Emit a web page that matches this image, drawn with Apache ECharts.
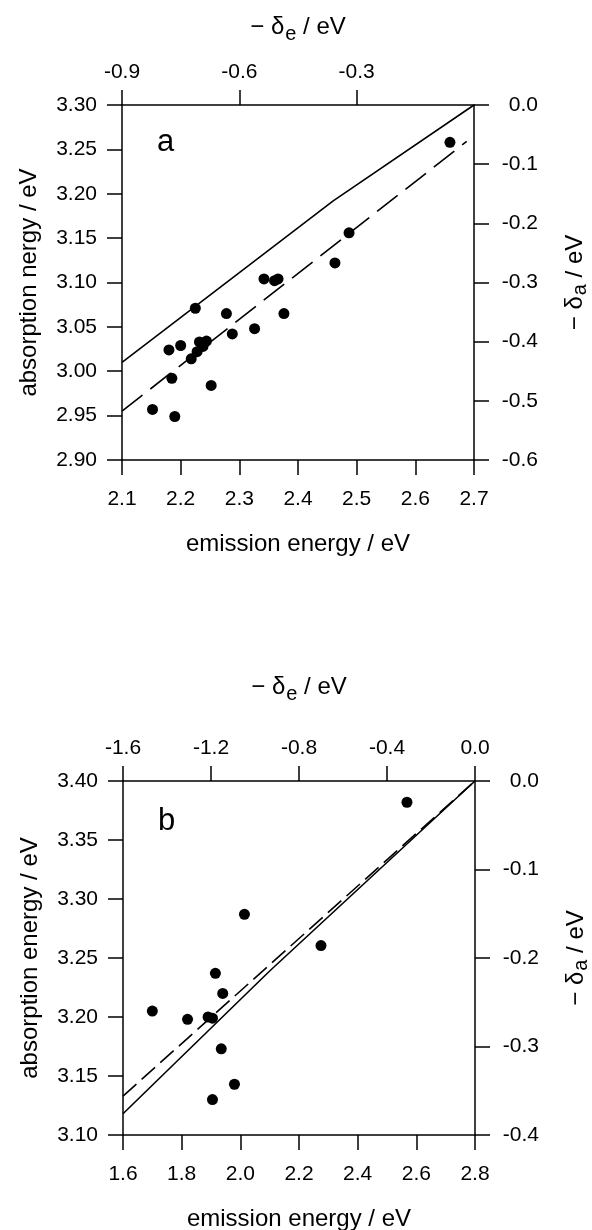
<!DOCTYPE html>
<html>
<head>
<meta charset="utf-8">
<script src="https://cdn.jsdelivr.net/npm/echarts@6/dist/echarts.min.js"></script>
<style>
  html, body { margin: 0; padding: 0; background: #fff; }
  #chart { width: 592px; height: 1230px; }
</style>
</head>
<body>
<div id="chart"></div>
<script>
// Panel a: emission vs absorption energies (eV)
const pointsA = [
  [2.152, 2.957], [2.180, 3.024], [2.185, 2.992], [2.190, 2.949],
  [2.200, 3.029], [2.218, 3.014], [2.225, 3.071], [2.228, 3.022],
  [2.232, 3.033], [2.238, 3.028], [2.244, 3.034], [2.252, 2.984],
  [2.278, 3.065], [2.288, 3.042], [2.326, 3.048], [2.342, 3.104],
  [2.360, 3.102], [2.366, 3.104], [2.376, 3.065], [2.463, 3.122],
  [2.487, 3.156], [2.659, 3.258]
];
const solidA = [[2.1, 3.010], [2.46, 3.192], [2.7, 3.300]];
const dashedA = [[2.1, 2.955], [2.6875, 3.259]];

// Panel b
const pointsB = [
  [1.700, 3.205], [1.820, 3.198], [1.890, 3.200], [1.905, 3.199],
  [1.915, 3.237], [1.940, 3.220], [1.935, 3.173], [1.980, 3.143],
  [1.905, 3.130], [2.014, 3.287], [2.275, 3.2605], [2.568, 3.382]
];
const solidB = [[1.6, 3.118], [2.1, 3.239], [2.8, 3.400]];
const dashedB = [[1.6, 3.133], [2.8, 3.400]];

// Tick ranges
const ticksEmissionA = { min: 2.1, max: 2.7, step: 0.1 };
const ticksDeltaEA = [-0.9, -0.6, -0.3];
const ticksAbsA = { min: 2.9, max: 3.3, step: 0.05 };
const ticksDeltaAA = { min: -0.6, max: 0, step: 0.1 };
const ticksEmissionB = { min: 1.6, max: 2.8, step: 0.2 };
const ticksDeltaEB = { min: -1.6, max: 0, step: 0.4 };
const ticksAbsB = { min: 3.1, max: 3.4, step: 0.05 };
const ticksDeltaAB = { min: -0.4, max: 0, step: 0.1 };

const FONT = 'Liberation Sans, Arial, Helvetica, sans-serif';
const INK = '#000';
const TICK_SIZE = 21;
const TITLE_SIZE = 24;

const rich = {
  t: { fontFamily: FONT, fontSize: TITLE_SIZE, color: INK },
  sub: { fontFamily: FONT, fontSize: 20, color: INK, padding: [14, 0, 0, 1] }
};
// right-hand titles sit close to the page edge, so their subscript drops less
const richSide = {
  t: { fontFamily: FONT, fontSize: TITLE_SIZE, color: INK },
  sub: { fontFamily: FONT, fontSize: 20, color: INK, padding: [9, 0, 0, 1] }
};

function axisBase(r, decimals, extra) {
  return Object.assign({
    type: 'value',
    min: r.min, max: r.max, interval: r.step,
    splitLine: { show: false },
    axisLine: { show: true, onZero: false, lineStyle: { color: INK, width: 1.5 } },
    axisTick: { show: true, inside: false, length: 15, lineStyle: { color: INK, width: 1.5 } },
    axisLabel: {
      fontFamily: FONT, fontSize: TICK_SIZE, color: INK,
      formatter: v => Number(v).toFixed(decimals)
    },
    nameTextStyle: { fontFamily: FONT, fontSize: TITLE_SIZE, color: INK, rich: rich }
  }, extra);
}

function label(margin, decimals, more) {
  return Object.assign({
    fontFamily: FONT, fontSize: TICK_SIZE, color: INK, margin: margin,
    formatter: v => Number(v).toFixed(decimals)
  }, more || {});
}

const sideName = { fontFamily: FONT, fontSize: TITLE_SIZE, color: INK, rich: richSide };

const chart = echarts.init(document.getElementById('chart'), null, { renderer: 'canvas' });

const option = {
  backgroundColor: '#fff',
  animation: false,
  grid: [
    { left: 122, top: 105, width: 352, height: 355, outerBoundsMode: 'none', containLabel: false },
    { left: 123, top: 781, width: 352, height: 354, outerBoundsMode: 'none', containLabel: false }
  ],
  xAxis: [
    axisBase(ticksEmissionA, 1, {
      gridIndex: 0, position: 'bottom',
      name: 'emission energy / eV', nameLocation: 'middle', nameGap: 72,
      axisLabel: label(29, 1)
    }),
    axisBase({ min: -0.9, max: 0, step: 0.3 }, 1, {
      gridIndex: 0, position: 'top',
      name: '{t|− δ}{sub|e}{t| / eV}', nameLocation: 'middle', nameGap: 61,
      axisTick: { show: true, inside: false, length: 15, customValues: ticksDeltaEA,
        lineStyle: { color: INK, width: 1.5 } },
      axisLabel: label(22, 1, { customValues: ticksDeltaEA })
    }),
    axisBase(ticksEmissionB, 1, {
      gridIndex: 1, position: 'bottom',
      name: 'emission energy / eV', nameLocation: 'middle', nameGap: 72,
      axisLabel: label(29, 1)
    }),
    axisBase(ticksDeltaEB, 1, {
      gridIndex: 1, position: 'top',
      name: '{t|− δ}{sub|e}{t| / eV}', nameLocation: 'middle', nameGap: 77,
      axisLabel: label(22, 1)
    })
  ],
  yAxis: [
    axisBase(ticksAbsA, 2, {
      gridIndex: 0, position: 'left',
      name: 'absorption nergy / eV', nameLocation: 'middle', nameGap: 81, nameRotate: 90,
      axisLabel: label(25, 2)
    }),
    axisBase(ticksDeltaAA, 1, {
      gridIndex: 0, position: 'right',
      name: '{t|− δ}{sub|a}{t| / eV}', nameLocation: 'middle', nameGap: 87, nameRotate: 90,
      nameTextStyle: sideName,
      axisLabel: label(64, 1, { align: 'right' })
    }),
    axisBase(ticksAbsB, 2, {
      gridIndex: 1, position: 'left',
      name: 'absorption energy / eV', nameLocation: 'middle', nameGap: 81, nameRotate: 90,
      axisLabel: label(25, 2)
    }),
    axisBase(ticksDeltaAB, 1, {
      gridIndex: 1, position: 'right',
      name: '{t|− δ}{sub|a}{t| / eV}', nameLocation: 'middle', nameGap: 87, nameRotate: 90,
      nameTextStyle: sideName,
      axisLabel: label(64, 1, { align: 'right' })
    })
  ],
  graphic: [
    { type: 'text', left: 157, top: 127, style: { text: 'a', fontFamily: FONT, fontSize: 31, fill: INK } },
    { type: 'text', left: 158, top: 806, style: { text: 'b', fontFamily: FONT, fontSize: 31, fill: INK } }
  ],
  series: [
    { type: 'line', xAxisIndex: 0, yAxisIndex: 0, data: solidA, symbol: 'none',
      lineStyle: { color: INK, width: 1.6 }, z: 2 },
    { type: 'line', xAxisIndex: 0, yAxisIndex: 0, data: dashedA, symbol: 'none',
      lineStyle: { color: INK, width: 1.6, type: [26, 10] }, z: 2 },
    { type: 'scatter', xAxisIndex: 0, yAxisIndex: 0, data: pointsA, symbol: 'circle',
      symbolSize: 11, itemStyle: { color: INK, opacity: 1 }, z: 3 },
    { type: 'line', xAxisIndex: 2, yAxisIndex: 2, data: solidB, symbol: 'none',
      lineStyle: { color: INK, width: 1.6 }, z: 2 },
    { type: 'line', xAxisIndex: 2, yAxisIndex: 2, data: dashedB, symbol: 'none',
      lineStyle: { color: INK, width: 1.6, type: [18, 7] }, z: 2 },
    { type: 'scatter', xAxisIndex: 2, yAxisIndex: 2, data: pointsB, symbol: 'circle',
      symbolSize: 11, itemStyle: { color: INK, opacity: 1 }, z: 3 }
  ]
};

chart.setOption(option);
</script>
</body>
</html>
